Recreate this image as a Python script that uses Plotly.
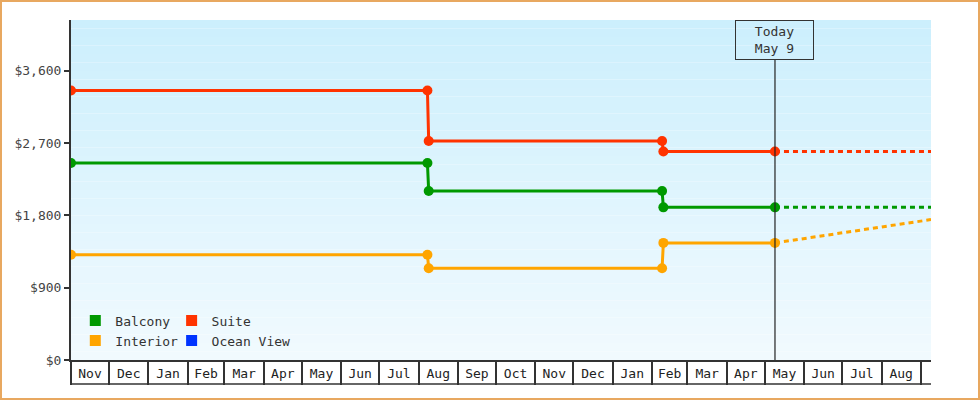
import pandas as pd
import plotly.graph_objects as go

#%% data
dates = ['2023-11-01', '2024-08-08', '2024-08-09', '2025-02-09', '2025-02-10', '2025-05-09']
suite = [3352, 3352, 2724, 2724, 2594, 2594]
balcony = [2450, 2450, 2103, 2103, 1899, 1899]
interior = [1310, 1310, 1142, 1142, 1457, 1457]

forecast_dates = ['2025-05-09', '2025-09-09']
suite_forecast = [2594, 2594]
balcony_forecast = [1899, 1899]
interior_forecast = [1457, 1747]

today = '2025-05-09'
x_range = ['2023-11-01', '2025-09-09']
y_ticks = [0, 900, 1800, 2700, 3600]
y_labels = ['$0', '$900', '$1,800', '$2,700', '$3,600']

#%% styles
colors = {
    'Balcony': '#009900',
    'Suite': '#ff3300',
    'Interior': '#ffa500',
    'Ocean View': '#0033ff',
}
font = 'DejaVu Sans Mono'
dark = '#333333'

series = [
    ('Suite', suite, suite_forecast),
    ('Balcony', balcony, balcony_forecast),
    ('Interior', interior, interior_forecast),
]

fig = go.Figure()

for name, hist, fc in series:
    fig.add_trace(go.Scatter(
        x=forecast_dates, y=fc, mode='lines',
        line=dict(color=colors[name], width=3, dash='5px,4px'),
        showlegend=False, hoverinfo='skip',
    ))
    fig.add_trace(go.Scatter(
        x=dates, y=hist, mode='lines+markers', name=name,
        line=dict(color=colors[name], width=3),
        marker=dict(color=colors[name], size=10),
        showlegend=False,
    ))

# legend entries as coloured squares, two columns
legend_cols = [('legend', ['Balcony', 'Interior']), ('legend2', ['Suite', 'Ocean View'])]
for leg, names in legend_cols:
    for name in names:
        fig.add_trace(go.Scatter(
            x=[None], y=[None], mode='markers', name=name,
            marker=dict(color=colors[name], symbol='square', size=11),
            legend=leg,
        ))

#%% background gradient
top = (204, 239, 253)
bottom = (241, 250, 254)
n = 40
for i in range(n):
    t = i / (n - 1)
    c = tuple(round(top[k] + (bottom[k] - top[k]) * t) for k in range(3))
    fig.add_shape(
        type='rect', xref='x domain', yref='y domain',
        x0=0, x1=1, y0=1 - (i + 1) / n, y1=1 - i / n,
        fillcolor='rgb(%d,%d,%d)' % c, line=dict(width=0), layer='below',
    )

#%% today marker
fig.add_shape(
    type='line', xref='x', yref='y domain',
    x0=today, x1=today, y0=0, y1=1 - 40 / 340,
    line=dict(color='#222222', width=1.2),
)
fig.add_annotation(
    x=today, xref='x', y=1, yref='y domain', yanchor='top',
    text='Today<br>' + pd.Timestamp(today).strftime('%b ') + str(pd.Timestamp(today).day),
    showarrow=False, width=75, height=36,
    bordercolor=dark, borderwidth=1, borderpad=1,
    font=dict(family=font, size=13, color=dark),
)

# bottom edge of month boxes
fig.add_shape(
    type='line', xref='x domain', yref='y domain',
    x0=0, x1=1, y0=-24 / 340, y1=-24 / 340,
    line=dict(color=dark, width=1.5),
)

# outer border
fig.add_shape(
    type='rect', xref='paper', yref='paper',
    x0=(1 - 71) / 860, x1=(979 - 71) / 860,
    y0=(360 - 399) / 340, y1=(360 - 1) / 340,
    line=dict(color='#e8a860', width=2),
)

fig.update_layout(
    width=980, height=400,
    margin=dict(l=71, r=49, t=20, b=40),
    paper_bgcolor='white', plot_bgcolor='white',
    font=dict(family=font, size=13, color='#444444'),
    showlegend=True,
    legend=dict(x=0.005, y=0.16, xanchor='left', yanchor='top',
                bgcolor='rgba(0,0,0,0)', font=dict(size=13, color=dark),
                itemwidth=30, tracegroupgap=0),
    legend2=dict(x=0.117, y=0.16, xanchor='left', yanchor='top',
                 bgcolor='rgba(0,0,0,0)', font=dict(size=13, color=dark),
                 itemwidth=30, tracegroupgap=0),
)
fig.update_xaxes(
    type='date', range=x_range,
    tick0=x_range[0], dtick='M1', tickformat='%b', ticklabelmode='period',
    ticks='outside', ticklen=23, tickwidth=1.5, tickcolor=dark,
    ticklabelstandoff=-22,
    showline=True, linecolor=dark, linewidth=1.5,
    showgrid=False, zeroline=False,
    tickfont=dict(family=font, size=13, color='#222222'),
)
fig.update_yaxes(
    range=[0, 4230], tickmode='array', tickvals=y_ticks, ticktext=y_labels,
    ticks='outside', ticklen=5, tickwidth=2, tickcolor=dark,
    showline=True, linecolor=dark, linewidth=2,
    showgrid=False, zeroline=False,
    tickfont=dict(family=font, size=13, color='#444444'),
)

fig.write_html(
    'out.html',
    config={'displayModeBar': False},
    post_script="document.body.style.margin='0';",
)
